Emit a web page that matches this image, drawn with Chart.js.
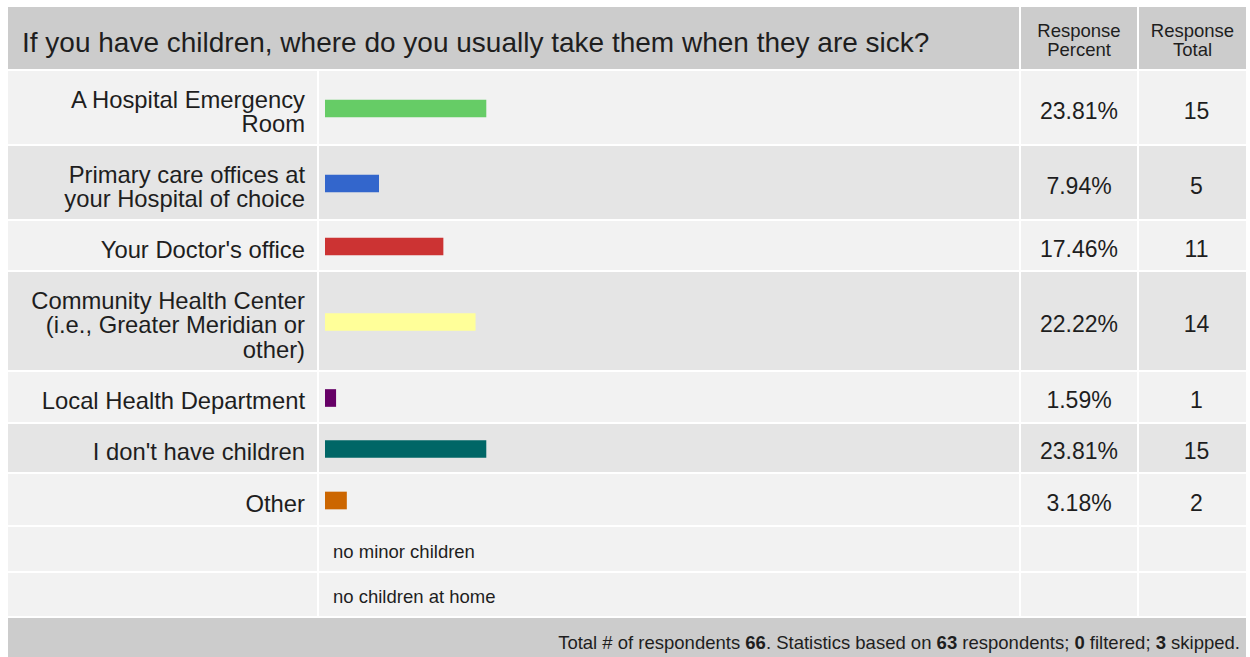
<!DOCTYPE html>
<html>
<head>
<meta charset="utf-8">
<script src="https://cdn.jsdelivr.net/npm/chart.js@4"></script>
<style>
html,body{margin:0;padding:0;background:#fff;overflow:hidden;width:1250px;height:657px;}
body{font-family:"Liberation Sans",Arial,sans-serif;color:#1e1e1e;}
table{position:absolute;left:6px;top:5px;border-collapse:separate;border-spacing:2px;table-layout:fixed;width:1242px;}
td{padding:0;vertical-align:middle;}
tr.hdr{height:62px;}
.hdr td{background:#cccccc;}
.title{font-size:28px;padding-left:14px !important;padding-top:9px !important;}
.colhead{font-size:18.5px;line-height:19px;text-align:center;padding-top:3px !important;}
.row td{background:#f2f2f2;}
.row.alt td{background:#e5e5e5;}
.lbl{font-size:23.8px;line-height:24.5px;text-align:right;padding-right:12px !important;padding-top:9px !important;}
.barcell{position:relative;}
.barwrap{position:absolute;left:6px;top:0;bottom:0;width:676px;}
.num{font-size:23px;text-align:center;padding-top:7px !important;}
.tot{padding-left:8px !important;}
.other td{background:#f2f2f2;}
.otxt{font-size:18.5px;padding-left:14px !important;padding-top:5px !important;}
tr.foot{height:40px;}
.foot td{background:#cccccc;font-size:18.5px;text-align:right;padding-right:6px !important;vertical-align:top;padding-top:14px !important;padding-bottom:10px !important;}
</style>
</head>
<body>
<table id="tbl">
<colgroup><col style="width:309px"><col style="width:700px"><col style="width:116px"><col style="width:107px"></colgroup>
<tbody id="tb"></tbody>
</table>
<script>
// ---- data ----
const title = "If you have children, where do you usually take them when they are sick?";
const colHeaders = ["Response<br>Percent", "Response<br>Total"];
const categories = [
  "A Hospital Emergency<br>Room",
  "Primary care offices at<br>your Hospital of choice",
  "Your Doctor's office",
  "Community Health Center<br>(i.e., Greater Meridian or<br>other)",
  "Local Health Department",
  "I don't have children",
  "Other"
];
const percents = [23.81, 7.94, 17.46, 22.22, 1.59, 23.81, 3.18];
const totals = [15, 5, 11, 14, 1, 15, 2];
const barColors = ["#66cc66", "#3366cc", "#cc3333", "#ffff99", "#660066", "#006666", "#cc6600"];
const otherResponses = ["no minor children", "no children at home"];
const totalRespondents = 66;
const basedOn = 63;
const filtered = 0;
const skipped = 3;

// ---- layout (row heights to match reference) ----
const rowHeights = [73, 73, 49, 98, 50, 48, 51];
const otherHeights = [44, 43];

const tb = document.getElementById('tb');
let html = '<tr class="hdr"><td colspan="2" class="title">' + title + '</td>' +
  colHeaders.map(h => '<td class="colhead">' + h + '</td>').join('') + '</tr>';
categories.forEach((c, i) => {
  html += '<tr class="row' + (i % 2 ? ' alt' : '') + '" style="height:' + rowHeights[i] + 'px">' +
    '<td class="lbl">' + c + '</td>' +
    '<td class="barcell"><div class="barwrap"><canvas id="bar' + i + '"></canvas></div></td>' +
    '<td class="num">' + percents[i].toFixed(2) + '%</td>' +
    '<td class="num tot">' + totals[i] + '</td></tr>';
});
otherResponses.forEach((o, i) => {
  html += '<tr class="other" style="height:' + otherHeights[i] + 'px"><td></td><td class="otxt">' + o + '</td><td></td><td></td></tr>';
});
html += '<tr class="foot"><td colspan="4">Total # of respondents <b>' + totalRespondents +
  '</b>. Statistics based on <b>' + basedOn + '</b> respondents; <b>' + filtered +
  '</b> filtered; <b>' + skipped + '</b> skipped.</td></tr>';
tb.innerHTML = html;

categories.forEach((c, i) => {
  new Chart(document.getElementById('bar' + i), {
    type: 'bar',
    data: {
      labels: [c.replace(/<br>/g, ' ')],
      datasets: [{
        data: [percents[i]],
        backgroundColor: barColors[i],
        borderWidth: 0,
        barThickness: 17
      }]
    },
    options: {
      indexAxis: 'y',
      responsive: true,
      maintainAspectRatio: false,
      animation: false,
      events: [],
      layout: { padding: { top: 2, bottom: 0, left: 0, right: 0 } },
      plugins: { legend: { display: false }, tooltip: { enabled: false } },
      scales: {
        x: { display: false, min: 0, max: 100 },
        y: { display: false }
      }
    }
  });
});
</script>
</body>
</html>
